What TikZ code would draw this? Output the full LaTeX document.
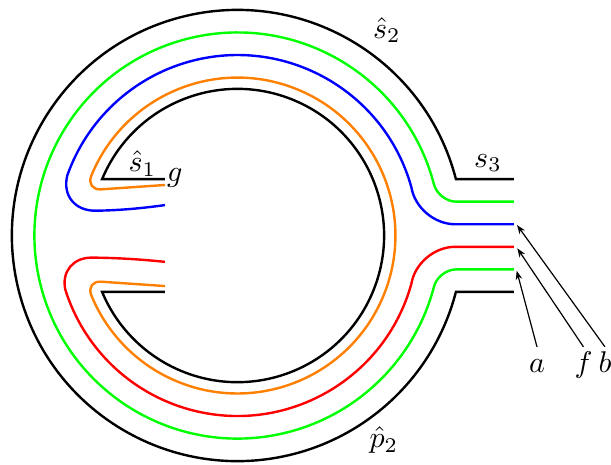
\documentclass[tikz,border=0pt]{standalone}
\usetikzlibrary{arrows.meta}
\begin{document}
\begin{tikzpicture}[x=25.067pt,y=25.067pt,
  ring/.style={line width=0.8pt},
  lbl/.style={inner sep=0pt, anchor=base west},
  ptr/.style={line width=0.4pt,-{Stealth[length=3pt,width=2.2pt]}},
  tag/.style={anchor=base, text height=1.2ex, inner sep=3.33pt}]
\useasboundingbox (-3.158,-3.039) rectangle (4.967,3.132);
% outer black
\draw[ring,black] (3.677,0.75) -- (2.9047,0.75) arc[start angle=14.478, end angle=345.522, radius=3] -- (3.677,-0.75);
% inner black
\draw[ring,black] (-0.964,0.75) -- (-1.8002,0.75) arc[start angle=157.38, end angle=-157.38, radius=1.95] -- (-0.964,-0.75);
% green
\draw[ring,green] (3.677,0.45) -- (2.912,0.45) .. controls (2.774,0.45) and (2.638,0.559) .. (14.90:2.7)
  arc[start angle=14.90, end angle=345.10, radius=2.7]
  .. controls (2.638,-0.559) and (2.774,-0.45) .. (2.912,-0.45) -- (3.677,-0.45);
% blue
\draw[ring,blue] (3.677,0.15) -- (2.895,0.15) .. controls (2.619,0.15) and (2.358,0.370) .. (15.52:2.4)
  arc[start angle=15.52, end angle=160.66, radius=2.4]
  .. controls (-2.328,0.527) and (-2.157,0.324) .. (-1.881,0.330)
  .. controls (-1.55,0.335) and (-1.25,0.365) .. (-0.964,0.405);
% red
\draw[ring,red] (3.677,-0.15) -- (2.895,-0.15) .. controls (2.619,-0.15) and (2.358,-0.370) .. (-15.52:2.4)
  arc[start angle=-15.52, end angle=-162.56, radius=2.4]
  .. controls (-2.342,-0.477) and (-2.182,-0.290) .. (-1.934,-0.294)
  .. controls (-1.6,-0.296) and (-1.28,-0.318) .. (-0.964,-0.35);
% orange
\draw[ring,orange] (-0.964,0.672) -- (-1.813,0.614) .. controls (-1.923,0.606) and (-1.983,0.684) .. (157.94:2.1)
  arc[start angle=157.94, end angle=-157.94, radius=2.1]
  .. controls (-1.983,-0.684) and (-1.923,-0.606) .. (-1.813,-0.614) -- (-0.964,-0.672);
% labels
\node[lbl] (s2) at (1.795,2.622) {$\hat{s}_2$};
\node[lbl] (p2) at (1.749,-2.819) {$\hat{p}_2$};
\node[lbl] (s3) at (3.14,0.911) {$s_3$};
\node[lbl] (s1) at (-1.455,0.85) {$\hat{s}_1$};
\node[lbl] (g) at (-0.944,0.718) {$g$};
\node[tag] (a) at (3.983,-1.828) {$a$};
\node[tag] (f) at (4.601,-1.828) {$f$};
\node[tag] (b) at (4.887,-1.828) {$b$};
% arrow targets
\coordinate (ta) at (3.713,-0.468);
\coordinate (tf) at (3.721,-0.170);
\coordinate (tb) at (3.717,0.140);
\draw[ptr] (a.north) -- (ta);
\draw[ptr] (f.north) -- (tf);
\draw[ptr] (b.north) -- (tb);
\end{tikzpicture}
\end{document}
